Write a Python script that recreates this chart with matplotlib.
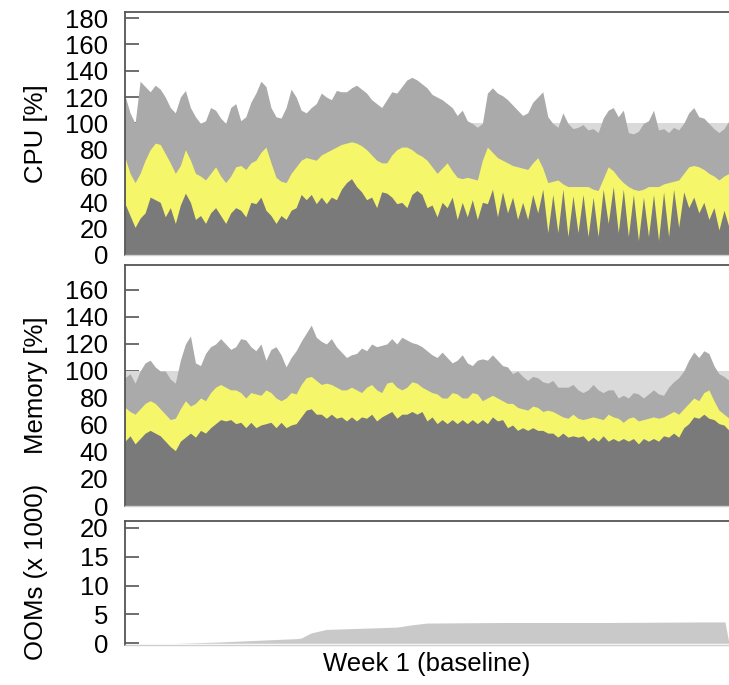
#!/usr/bin/env python
"""
Week 1 baseline: CPU, memory and OOM panels
"""
import matplotlib
matplotlib.use("Agg")
import matplotlib.pyplot as plt
import numpy as np

# values at whole steps (t = 0..60) and at the half steps in between (t + 0.5)
cpu_limit = [121, 100, 128, 129, 120, 108, 125, 105, 102, 110, 100, 115, 105, 123, 128,
             105, 112, 120, 108, 115, 120, 125, 124, 129, 123, 115, 118, 123, 133, 133,
             127, 120, 115, 106, 102, 97, 123, 123, 118, 110, 108, 120, 105, 97, 100,
             97, 95, 93, 110, 105, 93, 94, 102, 95, 93, 95, 108, 105, 100, 93, 102]
cpu_limit_mid = [108, 132, 124, 126, 112, 120, 112, 100, 112, 104, 112, 102, 116, 132, 112,
                 104, 126, 110, 112, 123, 118, 124, 127, 126, 118, 112, 124, 128, 135, 130,
                 122, 118, 112, 110, 100, 100, 127, 121, 114, 106, 116, 124, 100, 108, 96,
                 99, 96, 104, 112, 110, 92, 100, 110, 96, 97, 100, 112, 104, 96, 96]
cpu_request = [74, 55, 72, 85, 77, 62, 80, 62, 57, 67, 55, 67, 65, 72, 82,
               59, 55, 67, 74, 72, 78, 82, 85, 85, 80, 72, 70, 80, 82, 77,
               72, 62, 70, 59, 59, 57, 82, 74, 70, 67, 65, 74, 55, 57, 52,
               52, 52, 49, 67, 59, 52, 49, 52, 52, 55, 57, 67, 67, 62, 57, 62]
cpu_request_mid = [62, 62, 80, 84, 70, 68, 72, 60, 62, 60, 60, 68, 70, 78, 70,
                   56, 62, 72, 73, 76, 80, 84, 86, 83, 76, 70, 76, 82, 80, 75,
                   67, 66, 64, 58, 58, 72, 78, 72, 68, 66, 70, 66, 56, 54, 52,
                   52, 50, 58, 64, 55, 50, 50, 52, 54, 56, 62, 68, 65, 60, 60]
cpu_usage = [39, 21, 32, 42, 29, 24, 47, 27, 24, 36, 24, 36, 29, 39, 34,
             24, 27, 36, 42, 39, 39, 42, 55, 52, 42, 36, 47, 39, 36, 49,
             36, 29, 36, 27, 29, 27, 39, 29, 32, 27, 27, 32, 17, 17, 14,
             17, 14, 14, 24, 17, 14, 11, 14, 11, 14, 21, 36, 32, 27, 19, 21]
cpu_usage_mid = [30, 28, 44, 40, 36, 38, 40, 30, 32, 30, 32, 34, 40, 44, 30,
                 30, 34, 46, 46, 44, 44, 50, 58, 48, 44, 48, 44, 40, 46, 46,
                 38, 40, 44, 40, 42, 40, 50, 48, 44, 40, 46, 50, 46, 50, 45,
                 46, 44, 50, 52, 50, 46, 44, 46, 48, 50, 48, 44, 40, 36, 34]

mem_limit = [95, 91, 106, 103, 100, 91, 120, 106, 113, 120, 120, 118, 123, 115, 108,
             118, 103, 115, 128, 125, 120, 118, 110, 113, 115, 118, 120, 120, 123, 120,
             115, 110, 110, 108, 106, 108, 108, 108, 103, 100, 93, 95, 91, 88, 88,
             86, 86, 86, 86, 80, 80, 83, 83, 83, 88, 95, 108, 110, 113, 98, 93]
mem_limit_mid = [98, 100, 108, 100, 94, 108, 126, 104, 118, 124, 116, 124, 118, 120, 116,
                 112, 110, 122, 134, 122, 124, 114, 112, 117, 120, 119, 124, 125, 121, 118,
                 112, 114, 106, 112, 104, 109, 112, 104, 98, 96, 96, 92, 93, 88, 90,
                 84, 90, 84, 86, 82, 84, 80, 86, 82, 92, 100, 114, 115, 104, 96]
mem_request = [73, 68, 76, 76, 68, 65, 78, 76, 78, 88, 88, 86, 80, 83, 86,
               80, 80, 83, 95, 93, 91, 88, 86, 86, 88, 86, 91, 88, 88, 91,
               86, 83, 80, 83, 80, 83, 80, 80, 76, 73, 71, 73, 71, 68, 65,
               65, 65, 65, 68, 65, 65, 63, 65, 65, 68, 68, 76, 78, 86, 71, 65]
mem_request_mid = [70, 72, 78, 72, 64, 72, 74, 80, 84, 90, 86, 84, 84, 82, 84,
                   78, 84, 90, 96, 90, 90, 86, 88, 84, 90, 84, 92, 86, 92, 88,
                   84, 80, 84, 80, 84, 78, 82, 78, 76, 72, 74, 70, 70, 66, 68,
                   64, 66, 64, 66, 62, 66, 64, 66, 66, 70, 72, 80, 84, 78, 68]
mem_usage = [48, 46, 54, 54, 48, 41, 51, 51, 54, 61, 63, 61, 58, 58, 61,
             58, 58, 61, 71, 68, 65, 65, 63, 63, 65, 63, 68, 65, 68, 68,
             63, 61, 61, 61, 61, 61, 61, 63, 58, 56, 56, 56, 54, 51, 51,
             51, 48, 48, 48, 48, 48, 46, 48, 48, 51, 51, 61, 65, 65, 61, 56]
mem_usage_mid = [52, 50, 56, 52, 44, 48, 54, 56, 58, 64, 64, 62, 62, 60, 62,
                 62, 60, 66, 72, 68, 68, 66, 66, 66, 68, 66, 70, 68, 70, 70,
                 66, 64, 64, 64, 64, 64, 66, 64, 60, 58, 58, 56, 54, 54, 52,
                 52, 51, 52, 50, 50, 50, 50, 50, 52, 54, 58, 66, 68, 64, 60]

oom_t = [0, 5, 9, 13, 17, 17.5, 18.5, 20, 23.5, 27, 28.5, 30, 37.5, 47.5, 57.5, 59.6, 60]
oom_k = [0, 0, 0.2, 0.5, 0.8, 0.9, 1.8, 2.4, 2.6, 2.8, 3.2, 3.5, 3.6, 3.6, 3.7, 3.7, 0]

capacity = 100
T_END = 60

C_LIGHT = "#dadada"
C_LIMIT = "#aaaaaa"
C_REQ = "#f6f66a"
C_USE = "#7a7a7a"
C_OOM = "#c9c9c9"
FS = 18.5


def weave(whole, mid):
    # merge whole-step and half-step readings into one series
    out = np.empty(len(whole) + len(mid))
    out[0::2] = whole
    out[1::2] = mid
    return out


def style(ax, ylim, ticks):
    ax.set_xlim(0, T_END)
    ax.set_ylim(*ylim)
    ax.set_yticks(ticks)
    ax.set_xticks([])
    ax.set_axisbelow(True)
    ax.tick_params(axis="y", direction="in", length=10, width=1.2,
                   color="#555555", pad=12, labelsize=FS)
    for side in ("top", "left"):
        ax.spines[side].set_color("#555555")
        ax.spines[side].set_linewidth(1.3)
    ax.spines["right"].set_visible(False)
    ax.spines["bottom"].set_color("#cfcfcf")
    ax.spines["bottom"].set_linewidth(1.0)


def stacked(ax, limit, request, usage):
    t = np.arange(len(limit)) / 2
    ax.fill_between([0, T_END], 0, capacity, color=C_LIGHT, lw=0)
    ax.fill_between(t, 0, limit, color=C_LIMIT, lw=0)
    ax.fill_between(t, 0, request, color=C_REQ, lw=0)
    ax.fill_between(t, 0, usage, color=C_USE, lw=0)


plt.rcParams["font.family"] = ["Liberation Sans", "DejaVu Sans"]

fig = plt.figure(figsize=(7.29, 6.85), dpi=100)
left, width = 125 / 729, 1 - 125 / 729
ax1 = fig.add_axes([left, 1 - 255 / 685, width, 243 / 685])
ax2 = fig.add_axes([left, 1 - 506 / 685, width, 241 / 685])
ax3 = fig.add_axes([left, 1 - 645 / 685, width, 124 / 685])

stacked(ax1, weave(cpu_limit, cpu_limit_mid), weave(cpu_request, cpu_request_mid),
        weave(cpu_usage, cpu_usage_mid))
style(ax1, (0, 184.6), range(0, 181, 20))
ax1.set_ylabel("CPU [%]", fontsize=FS)

stacked(ax2, weave(mem_limit, mem_limit_mid), weave(mem_request, mem_request_mid),
        weave(mem_usage, mem_usage_mid))
style(ax2, (0, 178.5), range(0, 161, 20))
ax2.set_ylabel("Memory [%]", fontsize=FS)

ax3.fill_between(oom_t, 0, oom_k, color=C_OOM, lw=0)
style(ax3, (-0.3, 21.2), range(0, 21, 5))
ax3.set_ylabel("OOMs (x 1000)", fontsize=FS)
ax3.set_xlabel("Week 1 (baseline)", fontsize=FS, labelpad=5)

for ax, yc in ((ax1, 0.5), (ax2, 0.5), (ax3, 0.59)):
    ax.yaxis.set_label_coords(-0.128, yc)

fig.savefig("out.png", dpi=100)
